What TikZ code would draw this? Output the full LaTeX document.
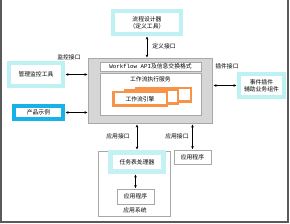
\documentclass[tikz,border=0pt]{standalone}
\usepackage{fontspec}
\newfontfamily\cjk{Noto Sans CJK SC}
\newfontfamily\monofnt{Liberation Mono}
\usetikzlibrary{arrows.meta}
\definecolor{lcyan}{HTML}{BDF1F3}
\definecolor{mcyan}{HTML}{C4F2F4}
\definecolor{blueb}{HTML}{16B2E8}
\definecolor{orng}{HTML}{F7944A}
\definecolor{grayfill}{HTML}{D6D6D6}
\definecolor{grayline}{HTML}{A8A8A8}
\definecolor{framec}{HTML}{5A5A5A}
\tikzset{
  txt/.style={font=\cjk\fontsize{5.8}{7.2}\selectfont, align=center, inner sep=0pt},
  cyanbox/.style={txt, draw=lcyan, line width=4pt, fill=white},
  bluebox/.style={txt, draw=blueb, line width=4pt, fill=white},
  graybox/.style={txt, draw=grayline, line width=0.7pt, fill=white},
  orngbox/.style={txt, draw=orng, line width=2.5pt, fill=white},
  dblarrow/.style={{Stealth[length=3pt,width=2.6pt]}-{Stealth[length=3pt,width=2.6pt]}, line width=0.6pt, black, shorten <=0.5pt, shorten >=0.5pt},
  lbl/.style={txt}
}
\begin{document}
\begin{tikzpicture}[x=1pt,y=-1pt]
\useasboundingbox (0,0) rectangle (290,224);
\draw[framec, line width=2pt] (1,0) -- (1,222) -- (288,222) -- (288,0);

% top designer
\node[cyanbox, minimum width=68pt, minimum height=23pt] (design) at (147,22.5) {流程设计器\\（定义工具）};
% left boxes
\node[cyanbox, minimum width=54pt, minimum height=23pt] (mon) at (36,74.5) {管理监控工具};
\node[bluebox, minimum width=49pt, minimum height=13pt] (prod) at (38.5,112.5) {产品示例};
% right box
\node[cyanbox, minimum width=45pt, minimum height=23pt] (plug) at (261.5,85.5) {事件插件\\辅助业务组件};

% central gray box
\node[draw=grayline, line width=1pt, fill=grayfill, minimum width=124pt, minimum height=65pt, inner sep=0pt] (core) at (150.5,91) {};
\node[graybox, minimum width=101pt, minimum height=9pt] (api) at (150.5,66.5) {{\monofnt Workflow API}及信息交换格式};
\node[graybox, minimum width=101pt, minimum height=42pt] (svc) at (150.5,94) {};
\node[lbl] (svct) at (150.5,79) {工作流执行服务};
\node[orngbox, minimum width=54.5pt, minimum height=13.5pt] (eng3) at (163.5,95) {};
\node[orngbox, minimum width=52.5pt, minimum height=13.5pt] (eng2) at (151.5,97) {};
\node[orngbox, minimum width=53.5pt, minimum height=13.5pt] (eng1) at (140,99) {工作流引擎};

% application system
\node[draw=grayline, line width=0.7pt, minimum width=72pt, minimum height=65pt, inner sep=0pt] (appsys) at (134,183.5) {};
\node[txt, draw=mcyan, line width=5pt, fill=white, minimum width=53pt, minimum height=19pt] (task) at (137,162) {任务表处理器};
\node[graybox, minimum width=37pt, minimum height=15pt] (app1) at (135.5,196.5) {应用程序};
\node[lbl] (appsyst) at (135,210) {应用系统};
\node[graybox, minimum width=37pt, minimum height=14pt] (app2) at (192.5,157) {应用程序};

% connectors
\draw[dblarrow] (design.south) -- (design.south |- core.north);
\draw[dblarrow] (mon.east) -- (mon.east -| core.west);
\draw[dblarrow] (prod.east) -- (prod.east -| core.west);
\draw[dblarrow] (core.east |- plug.west) -- (plug.west);
\draw[dblarrow] (core.south -| task.north) -- (task.north);
\draw[dblarrow] (core.south -| app2.north) -- (app2.north);
\draw[dblarrow] (task.south -| app1.north) -- (app1.north);

% labels
\node[lbl] (l1) at (164,46) {定义接口};
\node[lbl] (l2) at (69,57) {监控接口};
\node[lbl] (l3) at (227,66) {插件接口};
\node[lbl] (l4) at (118,136) {应用接口};
\node[lbl] (l5) at (177,136) {应用接口};
\end{tikzpicture}
\end{document}
